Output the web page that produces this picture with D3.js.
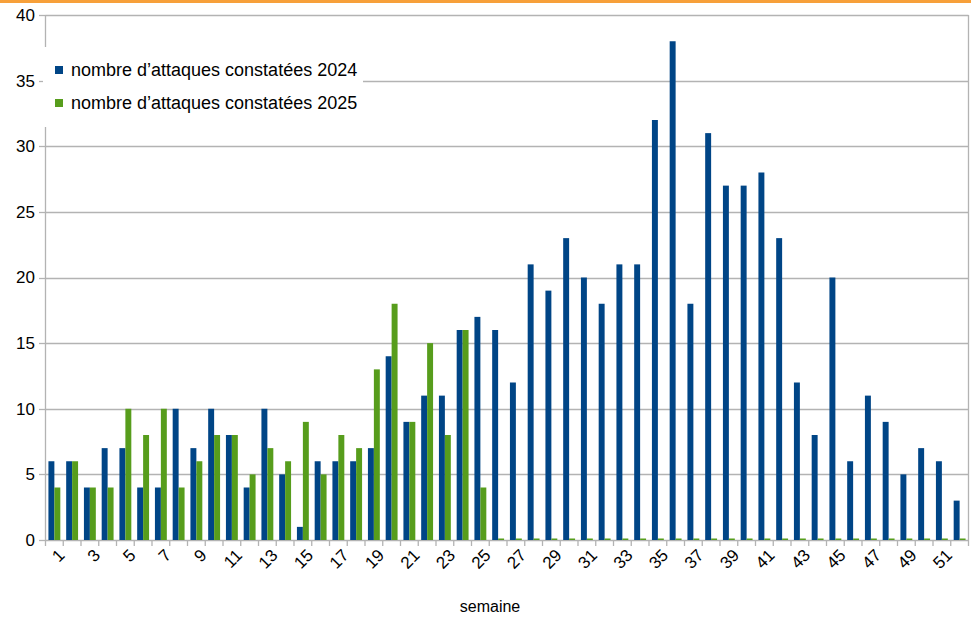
<!DOCTYPE html>
<html>
<head>
    <meta charset="utf-8">
    <script src="https://cdn.jsdelivr.net/npm/d3@7"></script>
    <style>
        body{
            margin: 0;
            background: #fff;
        }
        text{
            font-family: "Liberation Sans", Arial, sans-serif;
            fill: #000;
        }
    </style>
    <title>nombre d'attaques constatées</title>
</head>
<body>
    <div class="chart-wrap"></div>

    <script>
    var weeks = d3.range(1, 53);

    var attaques2024 = [6, 6, 4, 7, 7, 4, 4, 10, 7, 10, 8, 4, 10, 5, 1, 6, 6, 6, 7, 14,
                        9, 11, 11, 16, 17, 16, 12, 21, 19, 23, 20, 18, 21, 21, 32, 38, 18, 31, 27, 27,
                        28, 23, 12, 8, 20, 6, 11, 9, 5, 7, 6, 3];

    var attaques2025 = [4, 6, 4, 4, 10, 8, 10, 4, 6, 8, 8, 5, 7, 6, 9, 5, 8, 7, 13, 18,
                        9, 15, 8, 16, 4, 0, 0, 0, 0, 0, 0, 0, 0, 0, 0, 0, 0, 0, 0, 0,
                        0, 0, 0, 0, 0, 0, 0, 0, 0, 0, 0, 0];

    var seriesNames = ["nombre d\u2019attaques constatées 2024", "nombre d\u2019attaques constatées 2025"];
    var colors = ["#004586", "#579d1c"];
    var yTicks = [0, 5, 10, 15, 20, 25, 30, 35, 40];

    (function () {
        var w = 971,
            h = 617;

        var svg = d3.select(".chart-wrap").append("svg")
            .attr("width", w)
            .attr("height", h);

        // orange band on top
        svg.append("rect")
            .attr("x", 0).attr("y", 0)
            .attr("width", w).attr("height", 3)
            .style("fill", "#f7a03a");

        var pLeft = 45.5, pRight = 968.5, pTop = 15, pBottom = 540;

        var x0 = d3.scaleBand()
            .domain(weeks)
            .range([pLeft, pRight])
            .paddingInner(0.33)
            .paddingOuter(0.165);

        var x1 = d3.scaleBand()
            .domain([0, 1])
            .range([0, x0.bandwidth()]);

        var y = d3.scaleLinear()
            .domain([0, 40])
            .range([pBottom, pTop]);

        var step = x0.step();
        var grey = "#b3b3b3";

        // gridlines
        svg.append("g").selectAll("line")
            .data(yTicks)
            .enter().append("line")
            .attr("x1", pLeft).attr("x2", pRight)
            .attr("y1", function (d) { return Math.round(y(d)) + 0.5; })
            .attr("y2", function (d) { return Math.round(y(d)) + 0.5; })
            .style("stroke", grey)
            .style("stroke-width", 1.3);

        // y axis labels + ticks
        var yAxis = svg.append("g");
        yAxis.selectAll("text")
            .data(yTicks)
            .enter().append("text")
            .attr("x", 35)
            .attr("y", function (d) { return y(d); })
            .attr("dy", "0.35em")
            .attr("text-anchor", "end")
            .style("font-size", "17px")
            .text(function (d) { return d; });
        yAxis.selectAll("line")
            .data(yTicks)
            .enter().append("line")
            .attr("x1", 39).attr("x2", pLeft)
            .attr("y1", function (d) { return Math.round(y(d)) + 0.5; })
            .attr("y2", function (d) { return Math.round(y(d)) + 0.5; })
            .style("stroke", grey)
            .style("stroke-width", 1.3);

        // left axis and right border
        svg.append("line")
            .attr("x1", pLeft).attr("x2", pLeft)
            .attr("y1", pTop).attr("y2", pBottom + 6)
            .style("stroke", grey).style("stroke-width", 1.3);
        svg.append("line")
            .attr("x1", pRight).attr("x2", pRight)
            .attr("y1", pTop).attr("y2", pBottom + 6)
            .style("stroke", grey).style("stroke-width", 1.3);

        // x ticks at category boundaries
        svg.append("g").selectAll("line")
            .data(weeks.slice(1))
            .enter().append("line")
            .attr("x1", function (d) { return x0(d) - step * 0.33 / 2; })
            .attr("x2", function (d) { return x0(d) - step * 0.33 / 2; })
            .attr("y1", pBottom).attr("y2", pBottom + 6)
            .style("stroke", grey).style("stroke-width", 1.3);

        // bars
        var series = [attaques2024, attaques2025];
        series.forEach(function (values, s) {
            svg.append("g").selectAll("rect")
                .data(weeks)
                .enter().append("rect")
                .attr("x", function (d) { return x0(d) + x1(s); })
                .attr("width", x1.bandwidth())
                .attr("y", function (d, i) { return Math.min(y(values[i]), pBottom - 1.5); })
                .attr("height", function (d, i) { return Math.max(pBottom - y(values[i]), 1.5); })
                .style("fill", colors[s]);
        });

        // x labels
        svg.append("g").selectAll("text")
            .data(weeks.filter(function (d) { return d % 2 === 1; }))
            .enter().append("text")
            .attr("transform", function (d) {
                return "translate(" + (x0(d) + x0.bandwidth() / 2 + 3) + "," + (pBottom + 8) + ") rotate(-45)";
            })
            .attr("text-anchor", "end")
            .attr("dy", "0.7em")
            .style("font-size", "17px")
            .text(function (d) { return d; });

        svg.append("text")
            .attr("x", 490)
            .attr("y", 612)
            .attr("text-anchor", "middle")
            .style("font-size", "16px")
            .text("semaine");

        // legend
        var legend = svg.append("g");
        legend.append("rect")
            .attr("x", 43).attr("y", 47)
            .attr("width", 320).attr("height", 80)
            .style("fill", "#fff");
        seriesNames.forEach(function (name, i) {
            legend.append("rect")
                .attr("x", 55).attr("y", 66 + i * 33)
                .attr("width", 8).attr("height", 8)
                .style("fill", colors[i]);
            legend.append("text")
                .attr("x", 71).attr("y", 70 + i * 33)
                .attr("dy", "0.35em")
                .style("font-size", "18px")
                .text(name);
        });
    })();
    </script>
</body>
</html>
